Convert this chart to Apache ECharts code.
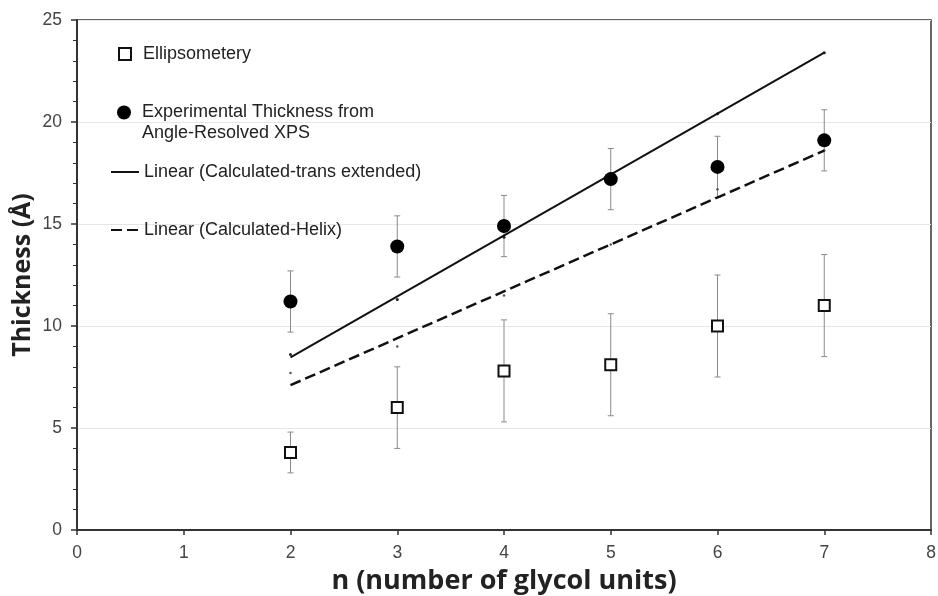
<!DOCTYPE html>
<html>
<head>
<meta charset="utf-8">
<script src="https://cdn.jsdelivr.net/npm/echarts@6/dist/echarts.min.js"></script>
<style>html,body{margin:0;padding:0;background:#fff;}#chart{width:938px;height:596px;}</style>
</head>
<body>
<div id="chart"></div>
<script>
// ---- data ----
const nValues = [2, 3, 4, 5, 6, 7];
const ellipsometry = [3.8, 6.0, 7.8, 8.1, 10.0, 11.0];
const ellipsometryErr = [1.0, 2.0, 2.5, 2.5, 2.5, 2.5];
const xps = [11.2, 13.9, 14.9, 17.2, 17.8, 19.1];
const xpsErr = [1.5, 1.5, 1.5, 1.5, 1.5, 1.5];
const calcTrans = [8.6, 11.3, 14.35, 17.4, 20.4, 23.4];
const calcHelix = [7.7, 9.0, 11.5, 14.0, 16.7, 18.6];
const trendX = [2, 7];
const transTrend = [8.46, 23.4];
const helixTrend = [7.1, 18.6];
const xTicks = [0, 1, 2, 3, 4, 5, 6, 7, 8];
const yTicks = [0, 5, 10, 15, 20, 25];

const NAME_E = 'Ellipsometery';
const NAME_X = 'Experimental Thickness from\nAngle-Resolved XPS';
const NAME_T = 'Linear (Calculated-trans extended)';
const NAME_H = 'Linear (Calculated-Helix)';

const pairs = (xs, ys) => xs.map((x, i) => [x, ys[i]]);
const errData = (vals, errs) => nValues.map((x, i) => [x, vals[i] - errs[i], vals[i] + errs[i]]);

function errRender(params, api) {
  const x = api.value(0);
  const lo = api.coord([x, api.value(1)]);
  const hi = api.coord([x, api.value(2)]);
  const hw = 3;
  const st = { stroke: '#8a8a8a', lineWidth: 1 };
  return {
    type: 'group',
    children: [
      { type: 'line', shape: { x1: hi[0], y1: hi[1], x2: lo[0], y2: lo[1] }, style: st },
      { type: 'line', shape: { x1: hi[0] - hw, y1: hi[1], x2: hi[0] + hw, y2: hi[1] }, style: st },
      { type: 'line', shape: { x1: lo[0] - hw, y1: lo[1], x2: lo[0] + hw, y2: lo[1] }, style: st }
    ]
  };
}

const legendText = { fontFamily: 'Liberation Sans, Arial, sans-serif', fontSize: 18, color: '#222' };

const chart = echarts.init(document.getElementById('chart'));
chart.setOption({
  animation: false,
  backgroundColor: '#fff',
  grid: { left: 77, right: 7, top: 20, bottom: 66, containLabel: false, outerBoundsMode: 'none',
          show: true, borderColor: '#333', borderWidth: 1.5, backgroundColor: 'transparent' },
  xAxis: {
    type: 'value', min: xTicks[0], max: xTicks[xTicks.length - 1], interval: 1,
    name: 'n (number of glycol units)', nameLocation: 'middle', nameGap: 38, nameMoveOverlap: false,
    nameTextStyle: { fontFamily: 'Open Sans', fontWeight: 'bold', fontSize: 27, color: '#222' },
    axisLine: { lineStyle: { color: '#333', width: 2 } },
    axisTick: { show: true, inside: false, length: 5, lineStyle: { color: '#333', width: 1.5 } },
    axisLabel: { fontFamily: 'Liberation Sans, Arial, sans-serif', fontSize: 17.5, color: '#444', margin: 14 },
    splitLine: { show: false }
  },
  yAxis: {
    type: 'value', min: yTicks[0], max: yTicks[yTicks.length - 1], interval: 5,
    name: 'Thickness (Å)', nameLocation: 'middle', nameGap: 42, nameRotate: 90, nameMoveOverlap: false,
    nameTextStyle: { fontFamily: 'Open Sans', fontWeight: 'bold', fontSize: 25, color: '#222' },
    axisLine: { show: true, lineStyle: { color: '#333', width: 2 } },
    axisTick: { show: true, inside: false, length: 6, lineStyle: { color: '#333', width: 1.5 } },
    minorTick: { show: true, splitNumber: 5, length: 4, lineStyle: { color: '#333', width: 1 } },
    axisLabel: { fontFamily: 'Liberation Sans, Arial, sans-serif', fontSize: 17.5, color: '#444', margin: 15 },
    splitLine: { show: true, lineStyle: { color: '#e6e6e6', width: 1 } }
  },
  legend: [
    { data: [NAME_E], left: 113, top: 40, orient: 'vertical', itemWidth: 12, itemHeight: 12,
      textStyle: Object.assign({ padding: [0, 0, 0, 7] }, legendText) },
    { data: [NAME_X], left: 112, top: 76, orient: 'vertical', itemWidth: 14, itemHeight: 14,
      formatter: (n) => '\n' + n,
      textStyle: Object.assign({ padding: [0, 0, 0, 6], lineHeight: 21 }, legendText) },
    { data: [NAME_T], left: 105, top: 158, orient: 'vertical', itemWidth: 28, itemHeight: 14,
      itemStyle: { opacity: 0 }, textStyle: legendText },
    { data: [NAME_H], left: 105, top: 216, orient: 'vertical', itemWidth: 28, itemHeight: 14,
      itemStyle: { opacity: 0 }, textStyle: legendText }
  ],
  series: [
    { type: 'custom', name: 'errE', renderItem: errRender, data: errData(ellipsometry, ellipsometryErr), z: 1, silent: true },
    { type: 'custom', name: 'errX', renderItem: errRender, data: errData(xps, xpsErr), z: 1, silent: true },
    { type: 'scatter', name: 'calcTrans', data: pairs(nValues, calcTrans), symbol: 'circle', symbolSize: 3,
      itemStyle: { color: '#222', opacity: 1 }, z: 2 },
    { type: 'scatter', name: 'calcHelix', data: pairs(nValues, calcHelix), symbol: 'circle', symbolSize: 2.5,
      itemStyle: { color: '#555', opacity: 1 }, z: 2 },
    { type: 'line', name: NAME_T, data: pairs(trendX, transTrend), showSymbol: false, symbol: 'none',
      lineStyle: { color: '#111', width: 2 }, itemStyle: { color: '#111' }, z: 3 },
    { type: 'line', name: NAME_H, data: pairs(trendX, helixTrend), showSymbol: false, symbol: 'none',
      lineStyle: { color: '#111', width: 2.5, type: [11, 5] }, itemStyle: { color: '#111' }, z: 3 },
    { type: 'scatter', name: NAME_E, data: pairs(nValues, ellipsometry), symbol: 'rect', symbolSize: 11,
      itemStyle: { color: '#fff', borderColor: '#111', borderWidth: 2, opacity: 1 }, z: 5 },
    { type: 'scatter', name: NAME_X, data: pairs(nValues, xps), symbol: 'circle', symbolSize: 14,
      itemStyle: { color: '#000', opacity: 1 }, z: 5 }
  ]
});
</script>
</body>
</html>
